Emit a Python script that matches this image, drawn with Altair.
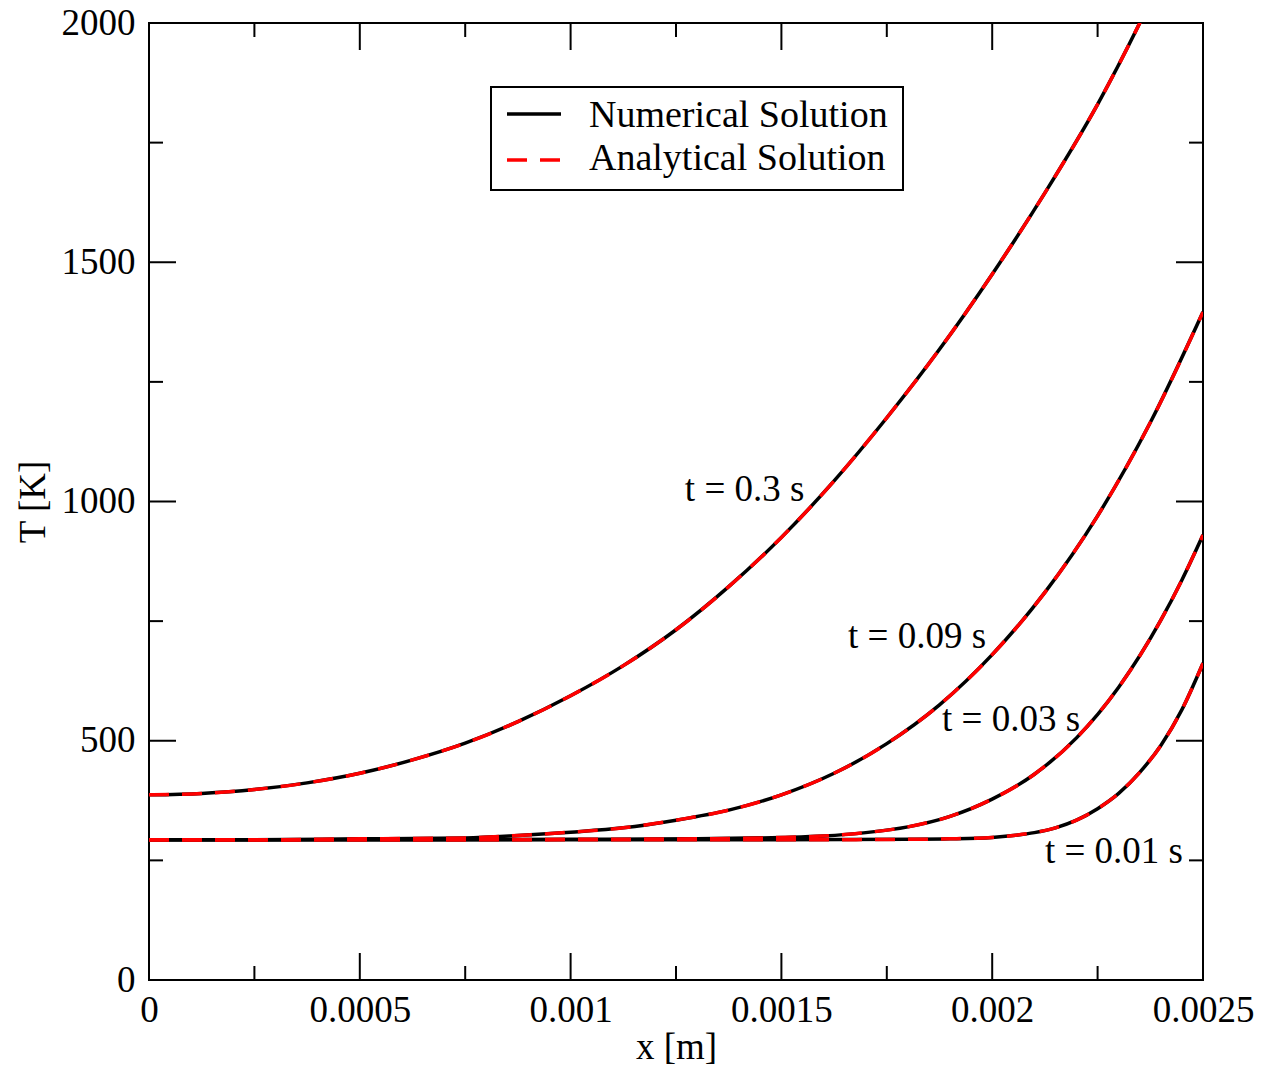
import altair as alt
import pandas as pd

# ---------------- data ----------------
x_t001 = [0, 0.0005, 0.001, 0.0015, 0.0018, 0.0019, 0.002, 0.00205, 0.0021,
          0.00215, 0.0022, 0.00225, 0.0023, 0.00235, 0.0024, 0.00245, 0.0025]
T_t001 = [293, 293, 293, 293, 294, 295, 298, 302, 308,
          318, 334, 358, 390, 434, 490, 565, 662]

x_t003 = [0, 0.0005, 0.001, 0.0013, 0.0015, 0.0016, 0.0017, 0.0018, 0.0019,
          0.002, 0.0021, 0.0022, 0.0023, 0.0024, 0.00245, 0.0025]
T_t003 = [293, 293, 294, 295, 298, 301, 308, 320, 342,
          378, 430, 506, 612, 752, 836, 930]

x_t009 = [0, 0.00025, 0.0005, 0.00075, 0.000875, 0.001, 0.001125, 0.00125,
          0.001375, 0.0015, 0.001625, 0.00175, 0.001875, 0.002, 0.002125,
          0.00225, 0.002375, 0.0025]
T_t009 = [293, 293, 295, 297, 302, 309, 318, 334,
          355, 387, 432, 494, 575, 680, 810,
          970, 1165, 1396]

x_t030 = [0, 0.000125, 0.00025, 0.000375, 0.0005, 0.000625, 0.00075, 0.000875,
          0.001, 0.001125, 0.00125, 0.001375, 0.0015, 0.001625, 0.00175,
          0.001875, 0.002, 0.002125, 0.00225, 0.002375, 0.0025]
T_t030 = [387, 390, 398, 412, 432, 460, 495, 540,
          594, 657, 732, 822, 925, 1043, 1175,
          1318, 1475, 1645, 1830, 2045, 2285]

curve_names = ["t = 0.01 s", "t = 0.03 s", "t = 0.09 s", "t = 0.3 s"]

label_text = ["t = 0.3 s", "t = 0.09 s", "t = 0.03 s", "t = 0.01 s"]
label_x = [0.001271, 0.001658, 0.001881, 0.002125]
label_T = [1001, 694, 520, 245]

x_major = [0, 0.0005, 0.001, 0.0015, 0.002, 0.0025]
x_minor = [0.00025, 0.00075, 0.00125, 0.00175, 0.00225]
y_major = [0, 500, 1000, 1500, 2000]
y_minor = [250, 750, 1250, 1750]

legend_labels = ["Numerical Solution", "Analytical Solution"]

# ---------------- build tables ----------------
rows = []
for name, xs, Ts in zip(curve_names, [x_t001, x_t003, x_t009, x_t030],
                        [T_t001, T_t003, T_t009, T_t030]):
    for xv, tv in zip(xs, Ts):
        rows.append({"t": name, "x": xv, "T": tv})
df = pd.DataFrame(rows)

W, H = 1054, 957
FONT = "Liberation Serif"
FS = 37
LFS = 38
MAJ, MIN = 27, 14

xscale = alt.Scale(domain=[0, 0.0025], nice=False, zero=False)
yscale = alt.Scale(domain=[0, 2000], nice=False, zero=False)
xaxis = alt.Axis(values=x_major, format="~g", labelPadding=12, labelFlush=False,
                 labelOverlap=False, titleY=78, titleBaseline="alphabetic")
yaxis = alt.Axis(values=y_major, format="d", labelPadding=14, labelFlush=False,
                 labelOverlap=False, titleX=-105, titleY=H / 2,
                 titleBaseline="alphabetic")


def X(field="x"):
    return alt.X(f"{field}:Q", scale=xscale, axis=xaxis, title="x [m]")


def Y(field="T"):
    return alt.Y(f"{field}:Q", scale=yscale, axis=yaxis, title="T [K]")


base = alt.Chart(df)
numerical = base.mark_line(color="black", strokeWidth=3.5, clip=True,
                           interpolate="monotone").encode(
    x=X(), y=Y(), detail="t:N")
analytical = base.mark_line(color="#ff0000", strokeWidth=3.5, clip=True,
                            strokeDash=[20, 13], interpolate="monotone").encode(
    x=X(), y=Y(), detail="t:N")

labels_df = pd.DataFrame({"label": label_text, "x": label_x, "T": label_T})
annot = alt.Chart(labels_df).mark_text(font=FONT, fontSize=FS, align="left",
                                       baseline="alphabetic", color="black").encode(
    x=X(), y=Y(), text="label:N")

# inward ticks on all four sides
xmaj = alt.Chart(pd.DataFrame({"x": x_major}))
xmin = alt.Chart(pd.DataFrame({"x": x_minor}))
ymaj = alt.Chart(pd.DataFrame({"T": y_major}))
ymin = alt.Chart(pd.DataFrame({"T": y_minor}))
tick_layers = []
for src, L in [(xmaj, MAJ), (xmin, MIN)]:
    tick_layers.append(src.mark_rule(color="black", strokeWidth=2).encode(
        x=X(), y=alt.value(H), y2=alt.value(H - L)))
    tick_layers.append(src.mark_rule(color="black", strokeWidth=2).encode(
        x=X(), y=alt.value(0), y2=alt.value(L)))
for src, L in [(ymaj, MAJ), (ymin, MIN)]:
    tick_layers.append(src.mark_rule(color="black", strokeWidth=2).encode(
        y=Y(), x=alt.value(0), x2=alt.value(L)))
    tick_layers.append(src.mark_rule(color="black", strokeWidth=2).encode(
        y=Y(), x=alt.value(W), x2=alt.value(W - L)))

# legend box
one = pd.DataFrame({"a": [0]})
leg_box = alt.Chart(one).mark_rect(fill="white", stroke="black", strokeWidth=2).encode(
    x=alt.value(342), x2=alt.value(754), y=alt.value(64), y2=alt.value(167))
leg_num = alt.Chart(one).mark_rule(color="black", strokeWidth=3.5).encode(
    x=alt.value(358), x2=alt.value(412), y=alt.value(91))
leg_ana = alt.Chart(one).mark_rule(color="#ff0000", strokeWidth=3.5,
                                   strokeDash=[20, 13]).encode(
    x=alt.value(358), x2=alt.value(412), y=alt.value(137))
leg_t1 = alt.Chart(pd.DataFrame({"label": [legend_labels[0]]})).mark_text(
    font=FONT, fontSize=LFS, align="left", baseline="alphabetic", color="black").encode(
    x=alt.value(440), y=alt.value(104), text="label:N")
leg_t2 = alt.Chart(pd.DataFrame({"label": [legend_labels[1]]})).mark_text(
    font=FONT, fontSize=LFS, align="left", baseline="alphabetic", color="black").encode(
    x=alt.value(440), y=alt.value(147), text="label:N")

chart = alt.layer(
    numerical, analytical, annot, *tick_layers,
    leg_box, leg_num, leg_ana, leg_t1, leg_t2
).properties(
    width=W, height=H, autosize="none",
    padding={"left": 141, "top": 15, "right": 52, "bottom": 96},
).configure_view(
    stroke="black", strokeWidth=2
).configure_axis(
    labelFont=FONT, labelFontSize=FS, titleFont=FONT, titleFontSize=FS,
    labelColor="black", titleColor="black", titleFontWeight="normal",
    domain=False, ticks=False, grid=False
)

chart.save("out.html", embed_options={"renderer": "svg", "actions": False})
